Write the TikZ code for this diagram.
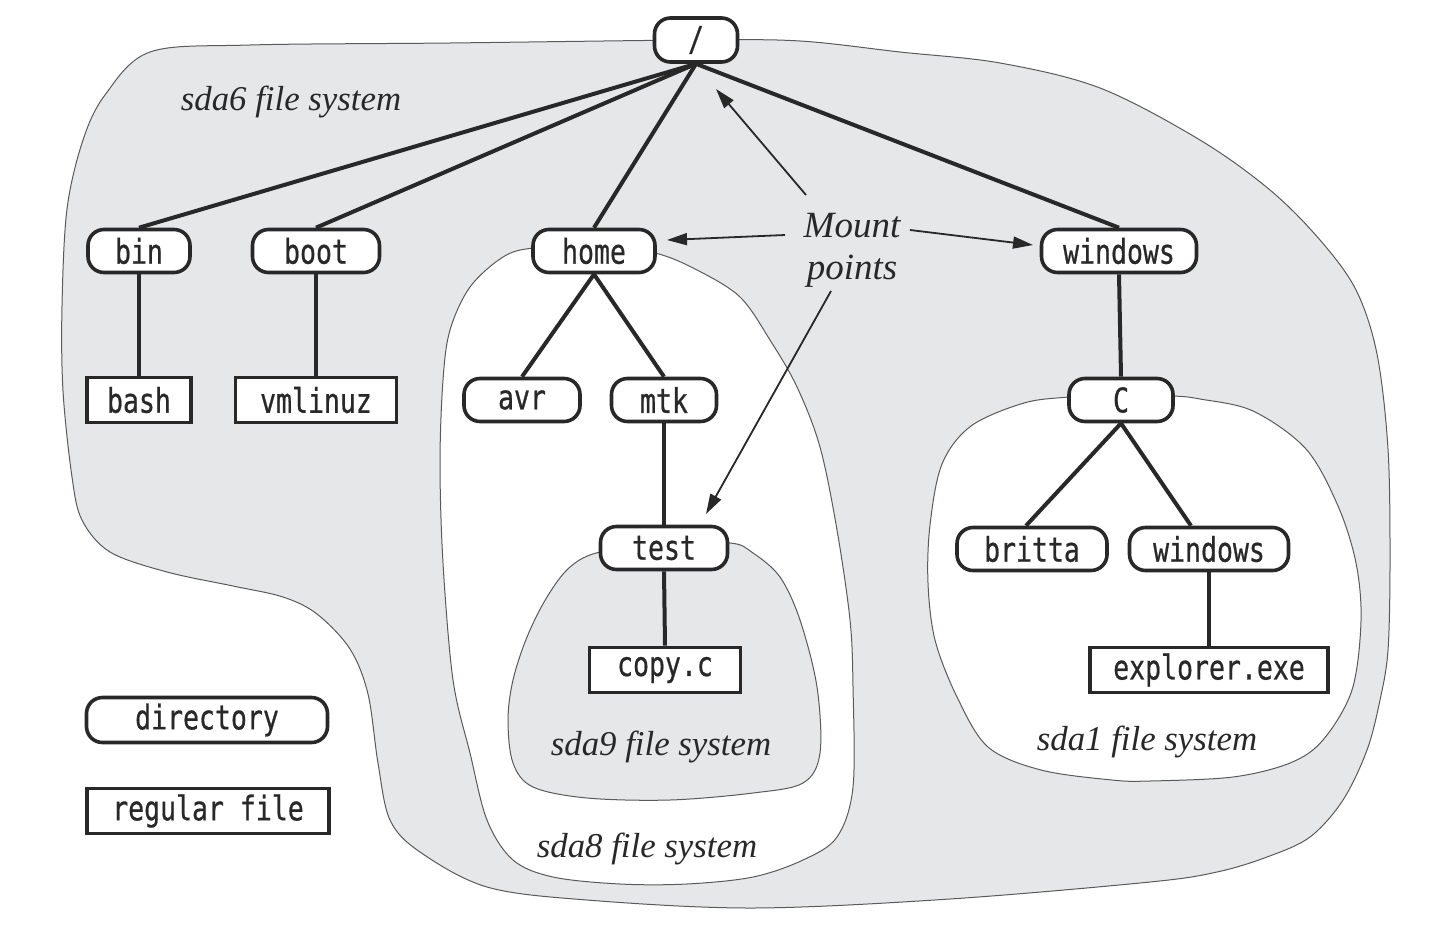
\documentclass[tikz,border=0pt]{standalone}
\usepackage{fontspec}
\newfontfamily\dirfont[FakeStretch=0.78,FakeBold=0.6]{DejaVu Sans Mono}
\newfontfamily\labelfont{Liberation Serif}
\usetikzlibrary{arrows.meta,calc}
\definecolor{fsgray}{RGB}{230,231,232}
\definecolor{ink}{RGB}{40,40,40}
\definecolor{blobline}{RGB}{90,90,90}
\tikzset{
  dirnode/.style={draw=ink, fill=white, line width=1.8pt, rounded corners=8pt,
    minimum height=21.5pt, inner sep=0pt, font=\dirfont\fontsize{17}{19}\selectfont, text=ink},
  filenode/.style={draw=ink, fill=white, line width=1.8pt, rectangle,
    minimum height=22.5pt, inner sep=0pt, font=\dirfont\fontsize{17}{19}\selectfont, text=ink},
  treeedge/.style={draw=ink, line width=2pt},
  mountarrow/.style={draw=ink, line width=0.9pt, -{Triangle[length=10pt,width=6pt]}},
  grayblob/.style={draw=blobline, line width=0.5pt, fill=fsgray},
  whiteblob/.style={draw=blobline, line width=0.5pt, fill=white},
  fslabel/.style={font=\labelfont\itshape\fontsize{17.4}{20}\selectfont, text=ink, inner sep=0pt},
}
\begin{document}
\begin{tikzpicture}[x=0.5pt,y=-0.5pt]
\useasboundingbox (0,0) rectangle (1455,926);
% sda6
\draw[grayblob] plot[smooth cycle, tension=0.55] coordinates {
 (150,52) (250,45) (450,43) (696,40) (800,41) (900,52) (1000,63) (1100,88)
 (1200,140) (1270,190) (1320,240) (1356,290) (1377,354) (1388,449) (1390,560)
 (1388,650) (1380,700) (1367,750) (1343,800) (1310,837) (1267,857) (1217,872)
 (1150,882) (950,899) (753,908)
 (587,900) (487,887) (420,852) (390,820) (378,763) (368,694) (350,649) (317,614)
 (283,597) (233,586) (167,572) (110,552) (82,520) (72,477) (63,391) (62,306)
 (67,209) (83,140) (105,95)};
% sda8
\draw[whiteblob] plot[smooth cycle, tension=0.55] coordinates {
 (655,253) (697,270) (740,297) (770,340) (797,387) (820,447) (837,530) (850,620)
 (853,687) (853,787) (837,837) (803,860) (753,877) (687,884) (620,884) (553,877)
 (513,860) (487,820) (470,753) (453,680) (443,563) (440,463) (443,380) (450,330)
 (470,287) (503,257) (533,248) (594,245)};
% sda9
\draw[grayblob] plot[smooth cycle, tension=0.55] coordinates {
 (600,552) (664,545) (730,543) (753,553) (780,577) (800,620) (817,687) (820,753)
 (803,783) (753,793) (670,800) (587,798) (533,787) (513,763) (508,720) (513,680)
 (527,637) (547,597) (570,567)};
% sda1
\draw[whiteblob] plot[smooth cycle, tension=0.55] coordinates {
 (1069,397) (1121,394) (1174,396) (1200,399) (1253,411) (1306,449) (1338,506)
 (1356,563) (1361,621) (1352,690) (1323,740) (1290,763) (1233,777) (1150,781)
 (1112,780) (1041,770) (988,747) (957,697) (935,640) (928,583) (930,525)
 (942,464) (971,426) (1024,403)};

% labels
\node[fslabel] (l6) at (291,102) {sda6 file system};
\node[fslabel] (l8) at (647,849) {sda8 file system};
\node[fslabel] (l9) at (661,747) {sda9 file system};
\node[fslabel] (l1) at (1147,742) {sda1 file system};
\node[font=\labelfont\itshape\fontsize{18.5}{21}\selectfont, text=ink, align=center, inner sep=0pt] (mp) at (852,250) {Mount\\points};

% nodes
\node[dirnode, minimum width=41.5pt, minimum height=22pt] (root) at (696,40) {/};
\node[dirnode, minimum width=51pt] (bin) at (139,251) {bin};
\node[dirnode, minimum width=63.5pt] (boot) at (316,251) {boot};
\node[dirnode, minimum width=61pt] (home) at (594,251) {home};
\node[dirnode, minimum width=77.5pt] (win) at (1119,251) {windows};
\node[filenode, minimum width=52pt] (bash) at (139,400) {bash};
\node[filenode, minimum width=80.5pt] (vml) at (316,400) {vmlinuz};
\node[dirnode, minimum width=58pt] (avr) at (522,400) {avr};
\node[dirnode, minimum width=52.5pt] (mtk) at (664,400) {mtk};
\node[dirnode, minimum width=52pt] (C) at (1121,400) {C};
\node[dirnode, minimum width=63.5pt] (test) at (664,548) {test};
\node[filenode, minimum width=75.5pt] (copy) at (665,670) {copy.c};
\node[dirnode, minimum width=75pt] (britta) at (1032,549) {britta};
\node[dirnode, minimum width=79.5pt] (win2) at (1209,549) {windows};
\node[filenode, minimum width=119pt] (expl) at (1209,670) {explorer.exe};
\node[dirnode, minimum width=120.5pt, minimum height=22.5pt] (legd) at (207,720) {directory};
\node[filenode, minimum width=121pt] (legf) at (208,811) {regular file};

% edges
\draw[treeedge] (root.south) -- (bin.north);
\draw[treeedge] (root.south) -- (boot.north);
\draw[treeedge] (root.south) -- (home.north);
\draw[treeedge] (root.south) -- (win.north);
\draw[treeedge] (bin.south) -- (bash.north);
\draw[treeedge] (boot.south) -- (vml.north);
\draw[treeedge] (home.south) -- (avr.north);
\draw[treeedge] (home.south) -- (mtk.north);
\draw[treeedge] (mtk.south) -- (test.north);
\draw[treeedge] (test.south) -- (copy.north);
\draw[treeedge] (win.south) -- (C.north);
\draw[treeedge] (C.south) -- ($(britta.north)+(-6,0)$);
\draw[treeedge] (C.south) -- ($(win2.north)+(-18,0)$);
\draw[treeedge] (win2.south) -- (expl.north);

% mount point arrows
\coordinate (a1s) at (806,195);
\coordinate (a1e) at (716,89);
\coordinate (a2s) at (785,235);
\coordinate (a2e) at (667,240);
\coordinate (a3s) at (910,230);
\coordinate (a3e) at (1033,245);
\coordinate (a4s) at (831,291);
\coordinate (a4e) at (706,514);
\draw[mountarrow] (a1s) -- (a1e);
\draw[mountarrow] (a2s) -- (a2e);
\draw[mountarrow] (a3s) -- (a3e);
\draw[mountarrow] (a4s) -- (a4e);
\end{tikzpicture}
\end{document}
